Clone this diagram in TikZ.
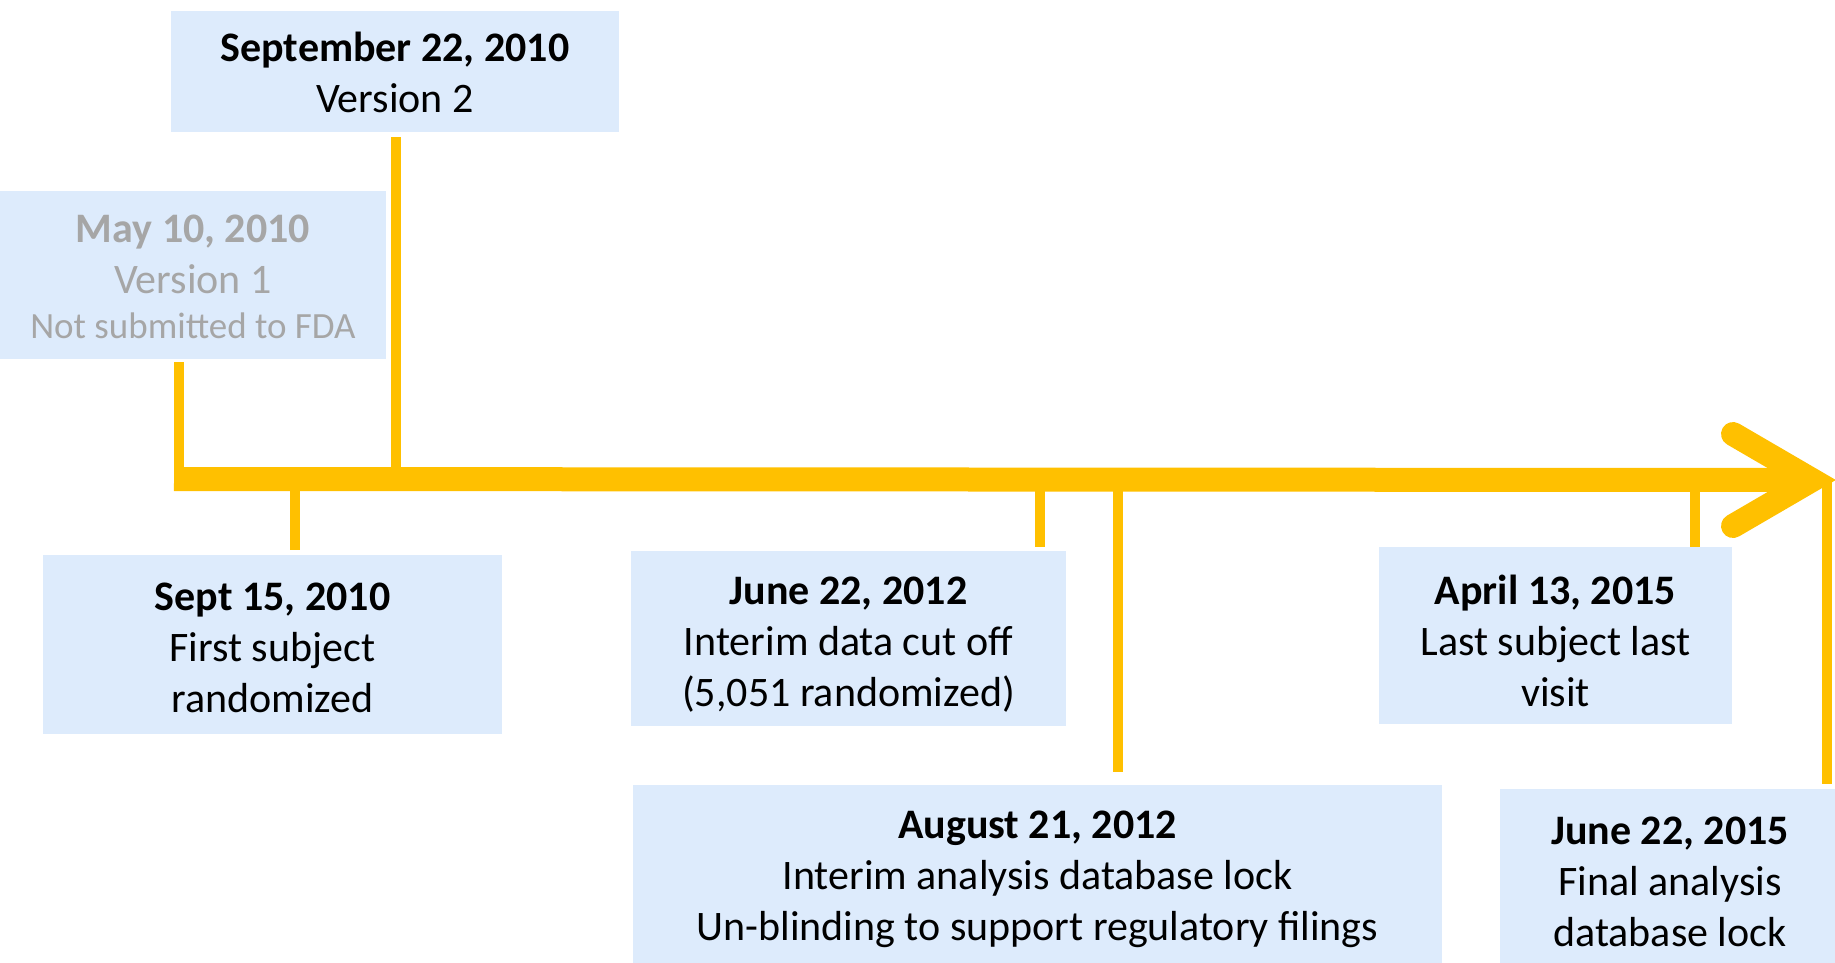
\documentclass[tikz,border=0pt]{standalone}
\usepackage{fontspec}
\setmainfont{Carlito}
\usetikzlibrary{calc}
\definecolor{gold}{HTML}{FFC000}
\definecolor{boxblue}{HTML}{DDEBFC}
\definecolor{greytxt}{HTML}{A6A6A6}
\begin{document}
\begin{tikzpicture}[x=1pt,y=-1pt,
  evbox/.style={fill=boxblue, inner sep=0pt},
  evtext/.style={inner sep=0pt, align=center, font=\fontsize{42}{51}\selectfont},
  stem/.style={draw=gold, line width=10pt},
  axisline/.style={draw=gold, line width=24pt},
  chevron/.style={draw=gold, line width=24pt, line cap=round, line join=miter}]
\useasboundingbox (0,0) rectangle (1835,962);

% boxes
\node[evbox, minimum width=448, minimum height=121] (sep) at (395,71.5) {};
\node[evtext] (sept) at ($(sep)+(0,1)$) {\textbf{September 22, 2010}\\Version 2};
\node[evbox, minimum width=386, minimum height=168] (may) at (193,275) {};
\node[evtext, text=greytxt] (mayt) at ($(may)+(0,2)$) {\textbf{May 10, 2010}\\Version 1\\[-6pt]{\fontsize{37}{45}\selectfont Not submitted to FDA}};
\node[evbox, minimum width=459, minimum height=179] (s15) at (272.5,644.5) {};
\node[evtext] (s15t) at ($(s15)+(0,3.5)$) {\textbf{Sept 15, 2010}\\First subject\\randomized};
\node[evbox, minimum width=435, minimum height=175] (j12) at (848.5,638.5) {};
\node[evtext] (j12t) at ($(j12)+(0,6)$) {\textbf{June 22, 2012}\\Interim data cut off\\(5,051 randomized)};
\node[evbox, minimum width=809, minimum height=190] (a21) at (1037.5,880) {};
\node[evtext] (a21t) at ($(a21)+(0,-1)$) {\textbf{August 21, 2012}\\Interim analysis database lock\\Un-blinding to support regulatory filings};
\node[evbox, minimum width=353, minimum height=177] (a15) at (1555.5,635.5) {};
\node[evtext] (a15t) at ($(a15)+(0,5)$) {\textbf{April 13, 2015}\\Last subject last\\visit};
\node[evbox, minimum width=340, minimum height=190] (j15) at (1670,884) {};
\node[evtext] (j15t) at ($(j15)+(0,-2)$) {\textbf{June 22, 2015}\\Final analysis\\database lock};

% axis points
\coordinate (ax0) at (174,479);
\coordinate (axE) at (1800,480);
\coordinate (tip) at (1812,480);
\coordinate (tMay) at (179,491);
\coordinate (tSep) at (396,479);
\coordinate (tS15) at (295,479);
\coordinate (tJ12) at (1040,479);
\coordinate (tA21) at (1118,479);
\coordinate (tA15) at (1695,479);
\coordinate (tJ15) at (1827,478);

% stems above axis
\draw[stem] ($(may.south -| tMay)+(0,3)$) -- (tMay);
\draw[stem] ($(sep.south -| tSep)+(0,5)$) -- (tSep);

% axis and arrow head
\draw[axisline] (ax0) -- (axE);
\draw[chevron] (1733,434) -- (tip) -- (1733,526);

% stems below axis
\draw[stem] (tS15) -- ($(tS15 |- s15.north)+(0,-5)$);
\draw[stem] (tJ12) -- ($(tJ12 |- j12.north)+(0,-4)$);
\draw[stem] (tA21) -- ($(tA21 |- a21.north)+(0,-13)$);
\draw[stem] (tA15) -- (tA15 |- a15.north);
\draw[stem] (tJ15) -- ($(tJ15 |- j15.north)+(0,-5)$);
\end{tikzpicture}
\end{document}
